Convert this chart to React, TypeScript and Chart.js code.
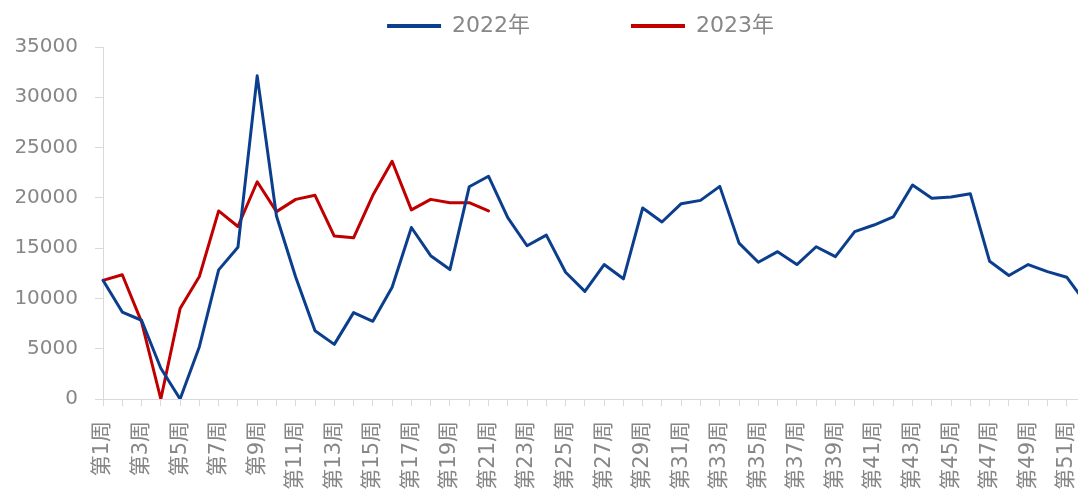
import React, { useEffect, useRef } from "react";
import { Chart, registerables } from "chart.js";

Chart.register(...registerables);

const weekLabels = [
  "第1周", "第2周", "第3周", "第4周", "第5周", "第6周", "第7周", "第8周", "第9周", "第10周",
  "第11周", "第12周", "第13周", "第14周", "第15周", "第16周", "第17周", "第18周", "第19周", "第20周",
  "第21周", "第22周", "第23周", "第24周", "第25周", "第26周", "第27周", "第28周", "第29周", "第30周",
  "第31周", "第32周", "第33周", "第34周", "第35周", "第36周", "第37周", "第38周", "第39周", "第40周",
  "第41周", "第42周", "第43周", "第44周", "第45周", "第46周", "第47周", "第48周", "第49周", "第50周",
  "第51周", "第52周",
];

const series2022 = [
  11800, 8650, 7830, 3060, 0, 5200, 12840, 15080, 32130, 18200,
  12110, 6780, 5430, 8590, 7730, 11120, 17050, 14250, 12870, 21100,
  22150, 18040, 15240, 16300, 12600, 10700, 13370, 11950, 19000, 17600,
  19420, 19750, 21140, 15500, 13600, 14650, 13370, 15140, 14150, 16650,
  17300, 18100, 21270, 19950, 20080, 20400, 13690, 12280, 13370, 12670,
  12110, 9500,
];

const series2023 = [
  11790, 12350, 7670, 0, 8990, 12180, 18700, 17150, 21600, 18630,
  19850, 20250, 16200, 16030, 20250, 23640, 18800, 19850, 19520, 19520,
  18700,
];

const seriesNames = ["2022年", "2023年"];

const BLUE = "#0B3F8E";
const RED = "#C00000";
const TEXT = "#878787";
const AXIS = "#D9D9D9";
const FONT = '"DejaVu Sans", "Noto Sans CJK SC", sans-serif';

export default function App() {
  const ref = useRef<HTMLCanvasElement>(null);

  useEffect(() => {
    const canvas = ref.current;
    if (!canvas) return;
    const chart = new Chart(canvas, {
      type: "line",
      data: {
        labels: weekLabels,
        datasets: [
          {
            label: seriesNames[0],
            data: series2022,
            borderColor: BLUE,
            backgroundColor: BLUE,
            borderWidth: 3,
            pointRadius: 0,
            tension: 0,
            fill: false,
            borderJoinStyle: "round",
            borderCapStyle: "round",
          },
          {
            label: seriesNames[1],
            data: series2023,
            borderColor: RED,
            backgroundColor: RED,
            borderWidth: 3,
            pointRadius: 0,
            tension: 0,
            fill: false,
            borderJoinStyle: "round",
            borderCapStyle: "round",
          },
        ],
      },
      options: {
        responsive: false,
        animation: false,
        layout: { padding: { left: 0, right: 66, top: 5, bottom: 0 } },
        plugins: {
          tooltip: { enabled: false },
          legend: {
            position: "top",
            align: "center",
            fullSize: false,
            labels: {
              boxWidth: 54,
              boxHeight: 4,
              padding: 10,
              color: TEXT,
              font: { family: FONT, size: 22 },
              generateLabels: (c: any) => {
                const items = Chart.defaults.plugins.legend.labels.generateLabels(c);
                return items.map((it: any, i: number) => ({
                  ...it,
                  text: i === 0 ? it.text + "             " : it.text + "    ",
                  fillStyle: it.strokeStyle,
                  lineWidth: 0,
                }));
              },
            },
          },
        },
        scales: {
          x: {
            grid: { drawOnChartArea: false, drawTicks: true, tickLength: 7, color: AXIS },
            border: { display: true, color: AXIS, width: 1 },
            ticks: {
              autoSkip: false,
              maxRotation: 90,
              minRotation: 90,
              padding: 15,
              color: TEXT,
              font: { family: FONT, size: 21 },
              callback: (_v: any, i: number) => (i % 2 === 0 ? weekLabels[i] : ""),
            },
            afterFit: (s: any) => {
              s.height = 90;
            },
          },
          y: {
            min: 0,
            max: 35000,
            grid: { drawOnChartArea: false, drawTicks: true, tickLength: 8, color: AXIS },
            border: { display: true, color: AXIS, width: 1 },
            ticks: {
              stepSize: 5000,
              padding: 17,
              color: TEXT,
              font: { family: FONT, size: 20 },
              callback: (v: any) => String(v),
            },
            afterFit: (s: any) => {
              s.width = 103;
            },
          },
        },
      },
    });
    return () => chart.destroy();
  }, []);

  return (
    <div
      style={{
        position: "fixed",
        left: 0,
        top: 0,
        width: 1078,
        height: 489,
        overflow: "hidden",
        background: "#ffffff",
      }}
    >
      <canvas ref={ref} width={1152} height={489} style={{ display: "block" }} />
    </div>
  );
}
